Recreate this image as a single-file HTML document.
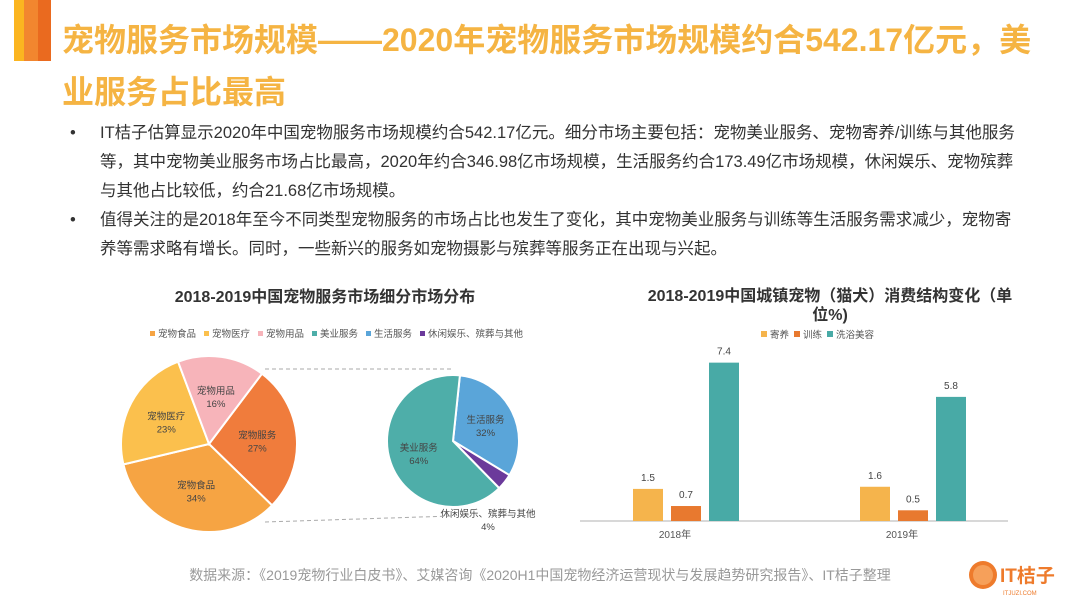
<!DOCTYPE html>
<html><head><meta charset="utf-8"><style>
body{margin:0;width:1080px;height:608px;background:#fff;overflow:hidden;position:relative;font-family:"Liberation Sans","Noto Sans CJK SC",sans-serif;color:#333}
.abs{position:absolute}
.title{left:62px;top:14px;font-size:32px;font-weight:bold;color:#f5b443;line-height:52px;white-space:nowrap}
.body{left:70px;top:119px;font-size:16.5px;line-height:29px;color:#333;white-space:nowrap}
.body p{margin:0;padding-left:30px;position:relative}
.body p:before{content:"•";position:absolute;left:0}
</style></head><body>
<div class="abs" style="left:14px;top:0;width:10px;height:61px;background:#fbb520"></div>
<div class="abs" style="left:24px;top:0;width:14px;height:61px;background:#f2862f"></div>
<div class="abs" style="left:38px;top:0;width:13px;height:61px;background:#ea6a1f"></div>
<div class="abs title">宠物服务市场规模——2020年宠物服务市场规模约合542.17亿元，美<br>业服务占比最高</div>
<div class="abs body">
<p>IT桔子估算显示2020年中国宠物服务市场规模约合542.17亿元。细分市场主要包括：宠物美业服务、宠物寄养/训练与其他服务<br>等，其中宠物美业服务市场占比最高，2020年约合346.98亿市场规模，生活服务约合173.49亿市场规模，休闲娱乐、宠物殡葬<br>与其他占比较低，约合21.68亿市场规模。</p>
<p>值得关注的是2018年至今不同类型宠物服务的市场占比也发生了变化，其中宠物美业服务与训练等生活服务需求减少，宠物寄<br>养等需求略有增长。同时，一些新兴的服务如宠物摄影与殡葬等服务正在出现与兴起。</p>
</div>
<svg class="abs" style="left:0;top:0" width="1080" height="608" font-family="Liberation Sans, Noto Sans CJK SC, sans-serif">
<text x="325" y="302" font-size="16" font-weight="bold" text-anchor="middle" fill="#333">2018-2019中国宠物服务市场细分市场分布</text>
<g id="legend1" font-size="9.5" fill="#555"></g>
<g id="pies"></g>
<line x1="265" y1="369" x2="452" y2="369" stroke="#aaa" stroke-dasharray="4,3"/>
<line x1="265" y1="522" x2="452" y2="516" stroke="#aaa" stroke-dasharray="4,3"/>
<text x="830" y="301" font-size="16" font-weight="bold" text-anchor="middle" fill="#333">2018-2019中国城镇宠物（猫犬）消费结构变化（单</text>
<text x="830" y="320" font-size="16" font-weight="bold" text-anchor="middle" fill="#333">位%)</text>
<g id="legend2" font-size="9.5" fill="#555"></g>
<g id="bars"></g>
<text x="540" y="580" font-size="14" text-anchor="middle" fill="#999">数据来源：《2019宠物行业白皮书》、艾媒咨询《2020H1中国宠物经济运营现状与发展趋势研究报告》、IT桔子整理</text>
<g>
<circle cx="983" cy="575" r="14" fill="#ee7b2c"/>
<circle cx="983" cy="575" r="10" fill="#f6a05a"/>
<text x="1000" y="582" font-size="19" font-weight="bold" fill="#ee7b2c">IT桔子</text>
<text x="1003" y="595" font-size="6" fill="#ee7b2c">ITJUZI.COM</text>
</g>
</svg>
<script>
const NS="http://www.w3.org/2000/svg";
const pie1Labels=["宠物服务","宠物食品","宠物医疗","宠物用品"];
const pie1Values=[27,34,23,16];
const pie1Colors=["#f07c3c","#f6a443","#fbc04d","#f7b4ba"];
const pie2Labels=["生活服务","休闲娱乐、殡葬与其他","美业服务"];
const pie2Values=[32,4,64];
const pie2Colors=["#5aa5d9","#6b3a9b","#4eaea9"];
const legend1Labels=["宠物食品","宠物医疗","宠物用品","美业服务","生活服务","休闲娱乐、殡葬与其他"];
const legend1Colors=["#f6a443","#fbc04d","#f7b4ba","#4eaea9","#5aa5d9","#6b3a9b"];
const barCategories=["2018年","2019年"];
const barSeriesNames=["寄养","训练","洗浴美容"];
const seriesJiyang=[1.5,1.6];
const seriesXunlian=[0.7,0.5];
const seriesXiyu=[7.4,5.8];
const barColors=["#f5b44c","#e8792f","#48aaa6"];
function mk(tag,attrs,parent){const e=document.createElementNS(NS,tag);for(const k in attrs)e.setAttribute(k,attrs[k]);parent.appendChild(e);return e;}
function drawPie(cx,cy,r,vals,cols,labels,start,name){
  const g=document.getElementById("pies");const tot=vals.reduce((a,b)=>a+b,0);let a=start;
  vals.forEach((v,i)=>{const span=v/tot*360;const a1=a*Math.PI/180,a2=(a+span)*Math.PI/180;
    const x1=cx+r*Math.sin(a1),y1=cy-r*Math.cos(a1),x2=cx+r*Math.sin(a2),y2=cy-r*Math.cos(a2);
    const p=mk("path",{d:`M${cx},${cy}L${x1},${y1}A${r},${r} 0 ${span>180?1:0} 1 ${x2},${y2}Z`,fill:cols[i],stroke:"#fff","stroke-width":2},g);
    
    
    const m=(a+span/2)*Math.PI/180;const lr=r*0.55;
    let lx=cx+lr*Math.sin(m),ly=cy-lr*Math.cos(m);
    if(v<6){lx=cx+35;ly=cy+r+12;}
    const t=mk("text",{x:lx,y:ly-2,"font-size":9.5,"text-anchor":"middle",fill:"#444"},g);
    
    
    t.textContent=labels[i];
    const t2=mk("text",{x:lx,y:ly+11,"font-size":9.5,"text-anchor":"middle",fill:"#444"},g);
    t2.textContent=v+"%";
    a+=span;});
}
drawPie(209,444,88,pie1Values,pie1Colors,pie1Labels,37,"pie-main");
drawPie(453,441,66,pie2Values,pie2Colors,pie2Labels,6,"pie-detail");
(function(){const g=document.getElementById("legend1");let x=150;
legend1Labels.forEach((l,i)=>{const r=mk("rect",{x:x,y:331,width:5,height:5,fill:legend1Colors[i]},g);


const t=mk("text",{x:x+8,y:337},g);t.textContent=l;x+=8+l.length*9.5+8;});})();
(function(){const g=document.getElementById("legend2");let x=761;
barSeriesNames.forEach((l,i)=>{mk("rect",{x:x,y:331,width:6,height:6,fill:barColors[i]},g);
const t=mk("text",{x:x+9,y:338},g);
t.textContent=l;x+=9+l.length*9.5+5;});})();
(function(){const g=document.getElementById("bars");const base=521,scale=21.4;const groups=[675,902];const bw=30;
const xs=[-42,-4,34];
mk("line",{x1:580,y1:base,x2:1008,y2:base,stroke:"#ccc","stroke-width":1.5},g);
const series=[seriesJiyang,seriesXunlian,seriesXiyu];
barCategories.forEach((c,ci)=>{
 series.forEach((s,si)=>{const h=s[ci]*scale;const x=groups[ci]+xs[si];
  const r=mk("rect",{x:x,y:base-h,width:bw,height:h,fill:barColors[si]},g);
  
  
  const t=mk("text",{x:x+bw/2,y:base-h-8,"font-size":10,"text-anchor":"middle",fill:"#444"},g);t.textContent=s[ci];});
 const t=mk("text",{x:groups[ci],y:538,"font-size":10,"text-anchor":"middle",fill:"#555"},g);
 
 
 t.textContent=c;});})();
</script>
</body></html>
